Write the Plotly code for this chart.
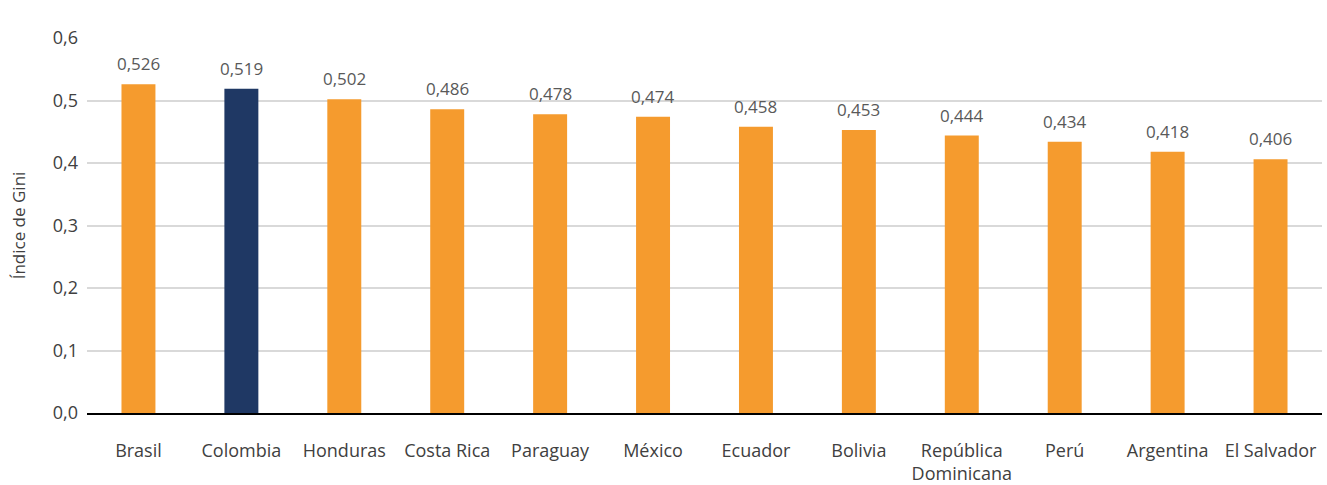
import plotly.graph_objects as go

countries = ["Brasil", "Colombia", "Honduras", "Costa Rica", "Paraguay", "México",
             "Ecuador", "Bolivia", "República<br>Dominicana", "Perú", "Argentina", "El Salvador"]
gini = [0.526, 0.519, 0.502, 0.486, 0.478, 0.474, 0.458, 0.453, 0.444, 0.434, 0.418, 0.406]
highlight = "Colombia"

orange = "#F59B2E"
navy = "#1F3864"
colors = [navy if c == highlight else orange for c in countries]
labels = [f"{v:.3f}".replace(".", ",") for v in gini]
yticks = [0, 0.1, 0.2, 0.3, 0.4, 0.5, 0.6]
yticktext = [f"{v:.1f}".replace(".", ",") for v in yticks]

font = "Open Sans"
fig = go.Figure(go.Bar(
    x=countries, y=gini, marker=dict(color=colors, line=dict(width=0)),
    width=0.33, hoverinfo="x+y",
))
for c, v, t in zip(countries, gini, labels):
    fig.add_annotation(x=c, y=v, text=t, showarrow=False, yanchor="bottom", yshift=7,
                       font=dict(family=font, size=17, color="#595959"))
fig.update_layout(
    width=1327, height=485,
    margin=dict(l=87, r=5, t=38, b=72, autoexpand=False),
    plot_bgcolor="white", paper_bgcolor="white",
    showlegend=False,
    font=dict(family=font, size=18, color="#404040"),
)
fig.update_xaxes(showline=True, linecolor="black", linewidth=2, ticks="",
                 automargin=False, ticklabelstandoff=20,
                 tickfont=dict(family=font, size=18, color="#404040"))
fig.update_yaxes(range=[0, 0.6], tickvals=yticks, ticktext=yticktext,
                 showgrid=True, gridcolor="#D9D9D9", gridwidth=1.5,
                 zeroline=False, ticks="", automargin=False, ticklabelstandoff=8,
                 tickfont=dict(family=font, size=18, color="#404040"),
                 title=dict(text="Índice de Gini", font=dict(family=font, size=17, color="#404040"), standoff=22))
fig.write_html("out.html", config={"displayModeBar": False},
               post_script="document.body.style.margin='0';document.body.style.overflow='hidden';")
